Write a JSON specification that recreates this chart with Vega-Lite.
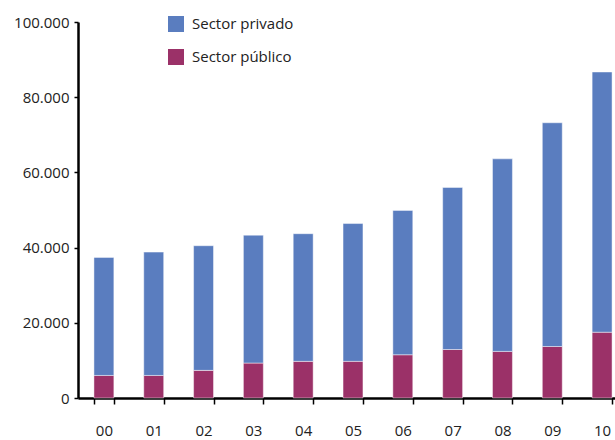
{
  "$schema": "https://vega.github.io/schema/vega-lite/v6.json",
  "autosize": {"type": "none"},
  "padding": {"left": 78, "top": 22, "right": 0, "bottom": 42},
  "width": 537,
  "height": 376,
  "config": {
    "font": "Open Sans",
    "view": {"stroke": null},
    "locale": {
      "number": {"decimal": ",", "thousands": ".", "grouping": [3], "currency": ["", " €"]}
    }
  },
  "data": {
    "values": [
      {"anio": "00", "sector": "Sector público", "valor": 6000},
      {"anio": "00", "sector": "Sector privado", "valor": 31400},
      {"anio": "01", "sector": "Sector público", "valor": 6000},
      {"anio": "01", "sector": "Sector privado", "valor": 32800},
      {"anio": "02", "sector": "Sector público", "valor": 7350},
      {"anio": "02", "sector": "Sector privado", "valor": 33150},
      {"anio": "03", "sector": "Sector público", "valor": 9300},
      {"anio": "03", "sector": "Sector privado", "valor": 34000},
      {"anio": "04", "sector": "Sector público", "valor": 9750},
      {"anio": "04", "sector": "Sector privado", "valor": 33950},
      {"anio": "05", "sector": "Sector público", "valor": 9750},
      {"anio": "05", "sector": "Sector privado", "valor": 36650},
      {"anio": "06", "sector": "Sector público", "valor": 11500},
      {"anio": "06", "sector": "Sector privado", "valor": 38400},
      {"anio": "07", "sector": "Sector público", "valor": 12900},
      {"anio": "07", "sector": "Sector privado", "valor": 43100},
      {"anio": "08", "sector": "Sector público", "valor": 12400},
      {"anio": "08", "sector": "Sector privado", "valor": 51200},
      {"anio": "09", "sector": "Sector público", "valor": 13700},
      {"anio": "09", "sector": "Sector privado", "valor": 59500},
      {"anio": "10", "sector": "Sector público", "valor": 17500},
      {"anio": "10", "sector": "Sector privado", "valor": 69200}
    ]
  },
  "mark": {"type": "bar", "stroke": "#ffffff", "strokeOpacity": 0.45, "strokeWidth": 1},
  "encoding": {
    "x": {
      "field": "anio",
      "type": "ordinal",
      "scale": {"range": [0, 550], "paddingInner": 0.6, "paddingOuter": 0.32},
      "axis": {
        "title": null,
        "labelAngle": 0,
        "tickBand": "extent",
        "tickSize": 6,
        "tickWidth": 1.5,
        "tickColor": "#000000",
        "domainColor": "#000000",
        "domainWidth": 2.5,
        "labelPadding": 19,
        "labelFontSize": 15,
        "labelColor": "#222222"
      }
    },
    "y": {
      "field": "valor",
      "type": "quantitative",
      "aggregate": "sum",
      "stack": "zero",
      "scale": {"domain": [0, 100000], "nice": false},
      "axis": {
        "title": null,
        "grid": false,
        "values": [0, 20000, 40000, 60000, 80000, 100000],
        "format": ",d",
        "tickSize": 4,
        "tickWidth": 1.5,
        "tickColor": "#000000",
        "domainColor": "#000000",
        "domainWidth": 2.5,
        "labelPadding": 5,
        "labelFontSize": 15,
        "labelColor": "#222222"
      }
    },
    "color": {
      "field": "sector",
      "type": "nominal",
      "scale": {"domain": ["Sector privado", "Sector público"], "range": ["#5a7dbf", "#9b3168"]},
      "legend": {
        "title": null,
        "orient": "none",
        "legendX": 90,
        "legendY": -6,
        "padding": 0,
        "symbolType": "square",
        "symbolSize": 256,
        "symbolStrokeWidth": 0,
        "symbolOpacity": 1,
        "rowPadding": 17,
        "labelOffset": 8,
        "labelFontSize": 15,
        "labelColor": "#222222"
      }
    },
    "order": {"field": "sector", "sort": "descending"}
  }
}
